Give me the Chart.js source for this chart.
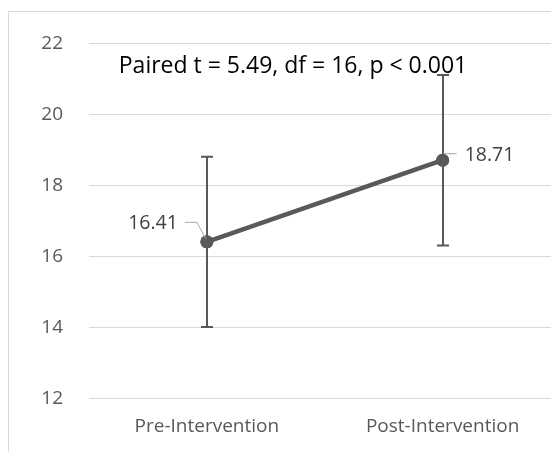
<!DOCTYPE html>
<html>
<head>
<meta charset="utf-8">
<script src="https://cdn.jsdelivr.net/npm/chart.js@4"></script>
<style>
    html, body { margin: 0; padding: 0; background: #ffffff; overflow: hidden; }
    #wrap { position: absolute; left: 0; top: 0; width: 567px; height: 480px; }
</style>
</head>
<body>
<div id="wrap"><canvas id="chart"></canvas></div>
<script>
// values
const categories = ["Pre-Intervention", "Post-Intervention"];
const means = [16.41, 18.71];
const errorSd = [2.4, 2.4];
const yMin = 12;
const yMax = 22;
const yStep = 2;
const statText = "Paired t = 5.49, df = 16, p < 0.001";

const GREY = "#595959";
const FONT = "'Open Sans', sans-serif";

// outer frame of the chart box (cropped at the right and bottom)
const frame = {
    id: "frame",
    beforeDraw(chart) {
        const ctx = chart.ctx;
        ctx.save();
        ctx.strokeStyle = "#d9d9d9";
        ctx.lineWidth = 1;
        ctx.strokeRect(8.5, 11.5, 800, 800);
        ctx.restore();
    },
};

// vertical error bars with caps
const errorBars = {
    id: "errorBars",
    afterDatasetsDraw(chart) {
        const { ctx, scales } = chart;
        const meta = chart.getDatasetMeta(0);
        ctx.save();
        ctx.strokeStyle = GREY;
        ctx.lineWidth = 2;
        meta.data.forEach((pt, i) => {
            const top = scales.y.getPixelForValue(means[i] + errorSd[i]);
            const bottom = scales.y.getPixelForValue(means[i] - errorSd[i]);
            const x = Math.round(pt.x);
            ctx.beginPath();
            ctx.moveTo(x, top);
            ctx.lineTo(x, bottom);
            ctx.moveTo(x - 6, top);
            ctx.lineTo(x + 6, top);
            ctx.moveTo(x - 6, bottom);
            ctx.lineTo(x + 6, bottom);
            ctx.stroke();
        });
        ctx.restore();
    },
    afterDraw(chart) {
        // points go on top of the bars
        chart.getDatasetMeta(0).data.forEach((pt) => pt.draw(chart.ctx));
    },
};

// value labels with leader lines, and the test statistic text
const labels = {
    id: "labels",
    afterDraw(chart) {
        const { ctx, chartArea, scales } = chart;
        const pts = chart.getDatasetMeta(0).data;
        ctx.save();
        ctx.font = "19.5px " + FONT;
        ctx.fillStyle = "#404040";
        ctx.textBaseline = "middle";
        ctx.strokeStyle = "#a6a6a6";
        ctx.lineWidth = 1;

        const p0 = pts[0];
        ctx.beginPath();
        ctx.moveTo(p0.x - 22, p0.y - 19.5);
        ctx.lineTo(p0.x - 10, p0.y - 19.5);
        ctx.lineTo(p0.x - 1, p0.y - 3);
        ctx.stroke();
        ctx.textAlign = "right";
        ctx.fillText(means[0].toFixed(2), p0.x - 29, p0.y - 18);

        const p1 = pts[1];
        ctx.beginPath();
        ctx.moveTo(p1.x + 1, p1.y - 6.5);
        ctx.lineTo(p1.x + 14, p1.y - 6.5);
        ctx.stroke();
        ctx.textAlign = "left";
        ctx.fillText(means[1].toFixed(2), p1.x + 22, p1.y - 5);

        ctx.font = "23px " + FONT;
        ctx.fillStyle = "#000000";
        ctx.textAlign = "center";
        ctx.fillText(statText, chartArea.left + 204, scales.y.getPixelForValue(21.35));
        ctx.restore();
    },
};

new Chart(document.getElementById("chart"), {
    type: "line",
    data: {
        labels: categories,
        datasets: [
            {
                data: means,
                borderColor: GREY,
                borderWidth: 4.5,
                pointRadius: 6.5,
                pointBackgroundColor: GREY,
                pointBorderWidth: 0,
                tension: 0,
            },
        ],
    },
    options: {
        responsive: true,
        maintainAspectRatio: false,
        animation: false,
        layout: { padding: { top: 43.5, right: 0, bottom: 0, left: 0 } },
        plugins: {
            legend: { display: false },
            tooltip: { enabled: false },
        },
        scales: {
            x: {
                offset: true,
                grid: { display: false, drawTicks: false },
                border: { display: false },
                ticks: { color: GREY, font: { family: FONT, size: 19 }, padding: 17 },
                afterFit: (scale) => { scale.height = 480 - 398.3; },
            },
            y: {
                min: yMin,
                max: yMax,
                grid: { color: "#d9d9d9", lineWidth: 1, drawTicks: false },
                border: { display: false },
                ticks: { stepSize: yStep, color: GREY, font: { family: FONT, size: 19 }, padding: 26 },
                afterFit: (scale) => { scale.width = 89; },
            },
        },
    },
    plugins: [frame, errorBars, labels],
});
</script>
</body>
</html>
